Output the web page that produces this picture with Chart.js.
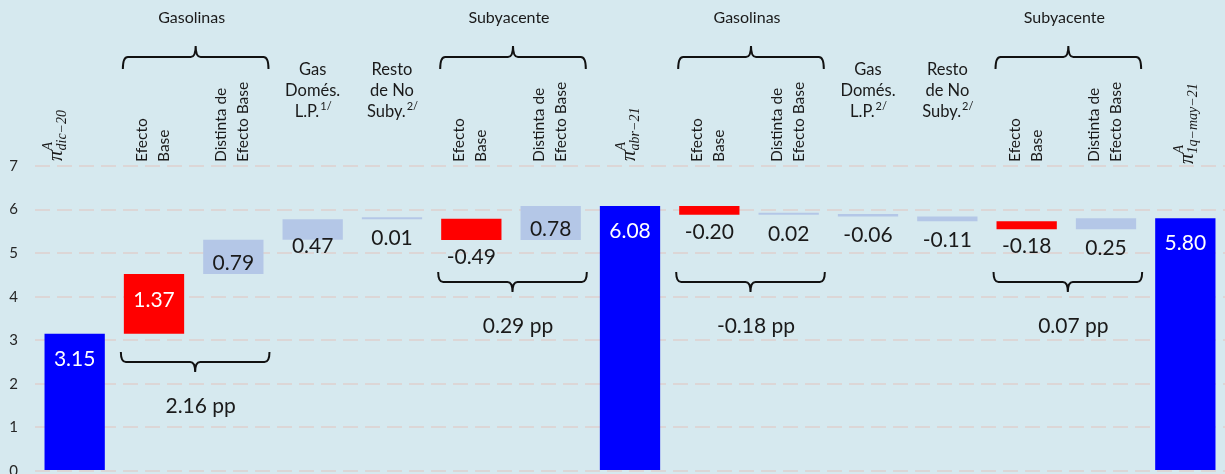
<!DOCTYPE html>
<html lang="es">
<head>
<meta charset="utf-8">
<script src="https://cdn.jsdelivr.net/npm/chart.js@4.4.1/dist/chart.umd.min.js"></script>
<style>
  html, body { margin: 0; padding: 0; background: #d6e9ef; overflow: hidden; }
  #wrap { width: 1225px; height: 497px; position: relative; }
</style>
</head>
<body>
<div id="wrap"><canvas id="cascada"></canvas></div>
<script>
// Datos de la gráfica (contribuciones en puntos porcentuales)
const categorias = ['π dic-20', 'Gasolinas efecto base', 'Gasolinas distinta de efecto base', 'Gas Domés. L.P.', 'Resto de No Suby.',
  'Subyacente efecto base', 'Subyacente distinta de efecto base', 'π abr-21',
  'Gasolinas efecto base', 'Gasolinas distinta de efecto base', 'Gas Domés. L.P.', 'Resto de No Suby.',
  'Subyacente efecto base', 'Subyacente distinta de efecto base', 'π 1q-may-21'];
const contribuciones = [3.15, 1.37, 0.79, 0.47, 0.01, -0.49, 0.78, 6.08, -0.20, 0.02, -0.06, -0.11, -0.18, 0.25, 5.80];
const tipos = ['total', 'base', 'otro', 'otro', 'otro', 'base', 'otro', 'total', 'base', 'otro', 'otro', 'otro', 'base', 'otro', 'total'];
const gruposInicio = [1, 5, 8, 12];
const gruposTitulo = ['Gasolinas', 'Subyacente', 'Gasolinas', 'Subyacente'];
const gruposTotal = ['2.16 pp', '0.29 pp', '-0.18 pp', '0.07 pp'];
const ticksY = [0, 1, 2, 3, 4, 5, 6, 7];

// Colores
const colores = {
    total: '#0000ff',
    base: '#ff0000',
    otro: '#b4c7e7',
    texto: '#1a1a1a',
    grid: '#dcd6d6'
};
const fuente = 'Lato, "Open Sans", sans-serif';

// Barras flotantes de la cascada
let acumulado = 0;
const rangos = contribuciones.map((v, i) => {
    if (tipos[i] === 'total') { acumulado = v; return [0, v]; }
    const r = [acumulado, acumulado + v];
    acumulado += v;
    return r;
});

// Etiquetas del eje x (dibujadas a mano)
const etiquetasEje = [
    { tipo: 'pi', sub: 'dic−20', dx: -13, y: 161 },
    { tipo: 'rot', lineas: ['Efecto', 'Base'] },
    { tipo: 'rot', lineas: ['Distinta de', 'Efecto Base'] },
    { tipo: 'hor', lineas: ['Gas', 'Domés.', 'L.P.'], sup: '1/' },
    { tipo: 'hor', lineas: ['Resto', 'de No', 'Suby.'], sup: '2/' },
    { tipo: 'rot', lineas: ['Efecto', 'Base'] },
    { tipo: 'rot', lineas: ['Distinta de', 'Efecto Base'] },
    { tipo: 'pi', sub: 'abr−21', dx: 5, y: 161 },
    { tipo: 'rot', lineas: ['Efecto', 'Base'] },
    { tipo: 'rot', lineas: ['Distinta de', 'Efecto Base'] },
    { tipo: 'hor', lineas: ['Gas', 'Domés.', 'L.P.'], sup: '2/' },
    { tipo: 'hor', lineas: ['Resto', 'de No', 'Suby.'], sup: '2/' },
    { tipo: 'rot', lineas: ['Efecto', 'Base'] },
    { tipo: 'rot', lineas: ['Distinta de', 'Efecto Base'] },
    { tipo: 'pi', sub: '1q−may−21', dx: 8, y: 164 }
];

// Dibuja una llave horizontal; dir = -1 punta arriba, 1 punta abajo
function llave(ctx, x1, x2, y, h, punta, dir) {
    const xm = (x1 + x2) / 2;
    const r = 5;
    ctx.beginPath();
    ctx.moveTo(x1, y - dir * h);
    ctx.quadraticCurveTo(x1, y, x1 + r, y);
    ctx.lineTo(xm - r, y);
    ctx.quadraticCurveTo(xm, y, xm, y + dir * punta);
    ctx.quadraticCurveTo(xm, y, xm + r, y);
    ctx.lineTo(x2 - r, y);
    ctx.quadraticCurveTo(x2, y, x2, y - dir * h);
    ctx.stroke();
}

function etiquetaPi(ctx, x, y, sub) {
    ctx.save();
    ctx.translate(x, y);
    ctx.rotate(-Math.PI / 2);
    ctx.textAlign = 'left';
    ctx.textBaseline = 'alphabetic';
    ctx.font = 'italic 21px "Liberation Serif", serif';
    ctx.fillText('π', 0, 0);
    const w = ctx.measureText('π').width;
    ctx.font = 'italic 14px "Liberation Serif", serif';
    ctx.fillText('A', w, -10);
    ctx.fillText(sub, w, 4);
    ctx.restore();
}

function textoConSup(ctx, texto, sup, x, y) {
    ctx.font = `16.5px ${fuente}`;
    const w1 = ctx.measureText(texto).width;
    ctx.font = `11px ${fuente}`;
    const w2 = ctx.measureText(sup).width;
    const x0 = x - (w1 + w2) / 2;
    ctx.textAlign = 'left';
    ctx.font = `16.5px ${fuente}`;
    ctx.fillText(texto, x0, y);
    ctx.font = `11px ${fuente}`;
    ctx.fillText(sup, x0 + w1 + 1, y - 6);
}

const anotaciones = {
    id: 'anotaciones',
    afterDatasetsDraw(chart) {
        const ctx = chart.ctx;
        const barras = chart.getDatasetMeta(0).data;
        ctx.save();

        // Valores de cada barra
        ctx.textAlign = 'center';
        ctx.textBaseline = 'middle';
        ctx.font = `21px ${fuente}`;
        barras.forEach((b, i) => {
            const arriba = Math.min(b.y, b.base);
            const abajo = Math.max(b.y, b.base);
            const alto = abajo - arriba;
            const txt = contribuciones[i].toFixed(2);
            let y;
            ctx.fillStyle = colores.texto;
            if (tipos[i] === 'total') {
                ctx.fillStyle = '#ffffff';
                y = arriba + 25;
            } else if (tipos[i] === 'base' && alto > 30) {
                ctx.fillStyle = '#ffffff';
                y = (arriba + abajo) / 2 - 4;
            } else if (alto > 30) {
                y = abajo - 11;
            } else if (tipos[i] === 'otro' && alto > 15) {
                y = abajo + 7;
            } else {
                y = abajo + (tipos[i] === 'base' ? 17 : 19);
            }
            ctx.fillText(txt, b.x, y);
        });

        // Etiquetas de categorías
        ctx.fillStyle = colores.texto;
        barras.forEach((b, i) => {
            const e = etiquetasEje[i];
            if (e.tipo === 'pi') {
                etiquetaPi(ctx, b.x + e.dx, e.y, e.sub);
            } else if (e.tipo === 'rot') {
                ctx.save();
                ctx.translate(b.x, 162);
                ctx.rotate(-Math.PI / 2);
                ctx.textAlign = 'left';
                ctx.textBaseline = 'middle';
                ctx.font = `15.5px ${fuente}`;
                ctx.fillText(e.lineas[0], 0, -12);
                ctx.fillText(e.lineas[1], 0, 10);
                ctx.restore();
            } else {
                ctx.textAlign = 'center';
                ctx.textBaseline = 'middle';
                ctx.font = `16.5px ${fuente}`;
                ctx.fillText(e.lineas[0], b.x, 70);
                ctx.fillText(e.lineas[1], b.x, 91);
                textoConSup(ctx, e.lineas[2], e.sup, b.x, 112);
            }
        });

        // Llaves de grupos
        ctx.strokeStyle = '#111111';
        ctx.lineWidth = 2;
        gruposInicio.forEach((g, k) => {
            const b1 = barras[g];
            const b2 = barras[g + 1];
            const x1 = b1.x - b1.width / 2;
            const x2 = b2.x + b2.width / 2;
            // llave superior y título
            llave(ctx, x1 - 1, x2 + 5, 57, 12, 11, -1);
            ctx.textAlign = 'center';
            ctx.textBaseline = 'middle';
            ctx.font = `16px ${fuente}`;
            ctx.fillText(gruposTitulo[k], (x1 + x2) / 2 - 2, 18);
            // llave inferior y total del grupo
            const yLlave = k === 0 ? 362 : 282;
            llave(ctx, x1 - 3, x2 + 6, yLlave, 10, 10, 1);
            ctx.font = `21px ${fuente}`;
            ctx.fillText(gruposTotal[k], (x1 + x2) / 2 + 7, yLlave + 44);
        });

        ctx.restore();
    }
};

const ctx = document.getElementById('cascada').getContext('2d');
new Chart(ctx, {
    type: 'bar',
    data: {
        labels: categorias,
        datasets: [{
            data: rangos,
            backgroundColor: tipos.map(t => colores[t]),
            borderWidth: 0,
            barPercentage: 0.76,
            categoryPercentage: 1,
            minBarLength: 2
        }]
    },
    options: {
        responsive: true,
        maintainAspectRatio: false,
        animation: false,
        layout: { padding: { top: 166, right: 0, left: 0, bottom: 0 } },
        plugins: {
            legend: { display: false },
            tooltip: { enabled: false }
        },
        scales: {
            x: { display: false },
            y: {
                min: 0,
                max: 7,
                afterBuildTicks: s => { s.ticks = ticksY.map(v => ({ value: v })); },
                afterFit: s => { s.width = 35; },
                border: { display: false, dash: [15, 7] },
                grid: {
                    color: colores.grid,
                    lineWidth: 2,
                    drawTicks: false
                },
                ticks: {
                    padding: 17,
                    color: '#262626',
                    font: { family: fuente, size: 15 }
                }
            }
        }
    },
    plugins: [anotaciones]
});
</script>
</body>
</html>
